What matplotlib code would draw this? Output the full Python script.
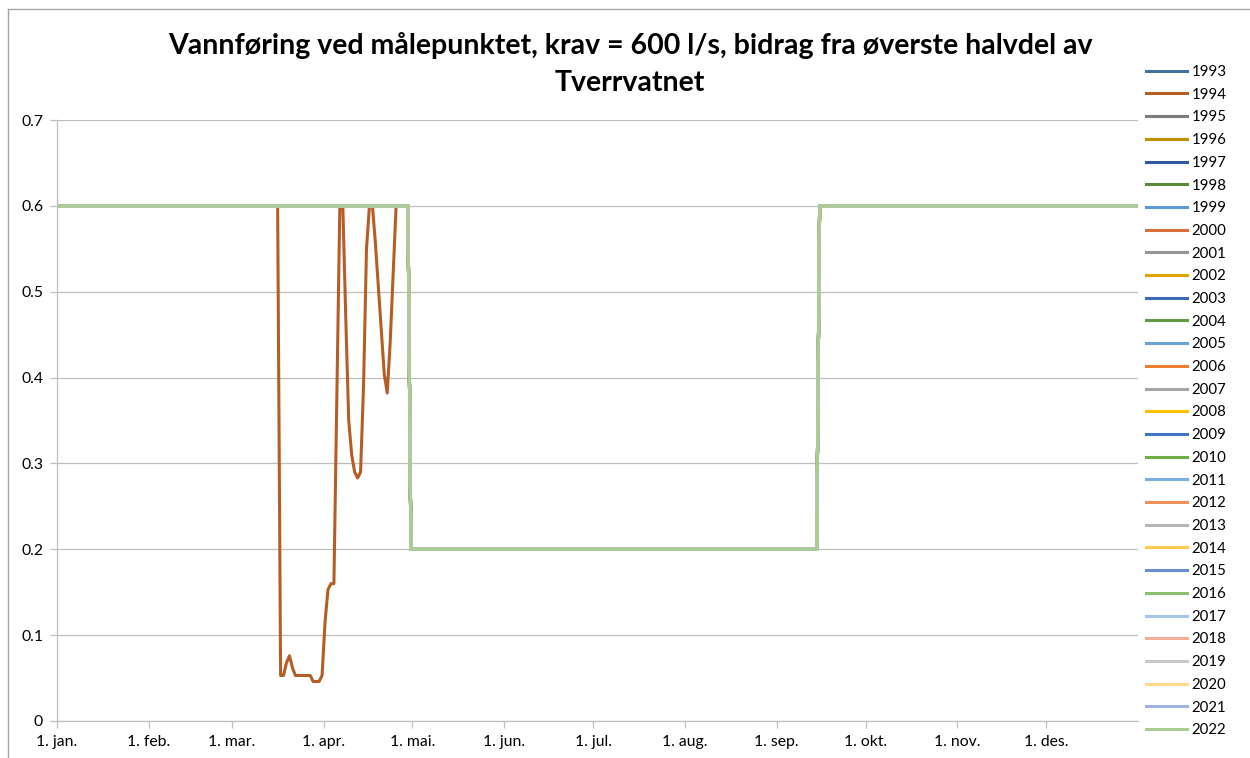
import numpy as np
import matplotlib
matplotlib.use("Agg")
import matplotlib.pyplot as plt
from matplotlib.lines import Line2D

plt.rcParams['font.family'] = ['Lato', 'DejaVu Sans']

# --- data -------------------------------------------------------------
years = list(range(1993, 2023))
n_days = 365

# flow requirement (m3/s) schedule, same for every year: start day -> value
krav_start_day = [0, 119, 257]
krav_value = [0.6, 0.2, 0.6]

# 1994 falls short of the requirement in March/April (day index, value)
dip_1994_days = list(range(75, 115))
dip_1994_vals = [0.053, 0.053, 0.068, 0.076, 0.062, 0.053, 0.053, 0.053, 0.053, 0.053,
                 0.053, 0.046, 0.046, 0.046, 0.053, 0.115, 0.153, 0.160, 0.160, 0.380,
                 0.600, 0.600, 0.470, 0.350, 0.310, 0.290, 0.283, 0.290, 0.390, 0.550,
                 0.600, 0.600, 0.557, 0.506, 0.455, 0.404, 0.382, 0.441, 0.520, 0.600]

month_start = [0, 31, 59, 90, 120, 151, 181, 212, 243, 273, 304, 334]
month_labels = ['1. jan.', '1. feb.', '1. mar.', '1. apr.', '1. mai.', '1. jun.',
                '1. jul.', '1. aug.', '1. sep.', '1. okt.', '1. nov.', '1. des.']

colors = ['#41719C', '#B65D26', '#7C7C7C', '#BF9000', '#335AA1', '#5A8A3A',
          '#5B9BD5', '#D8703A', '#959595', '#DFA700', '#4068B8', '#629B41',
          '#6AA3DA', '#ED7D31', '#A5A5A5', '#FFC000', '#4472C4', '#70AD47',
          '#7EAEDF', '#F1915A', '#B7B7B7', '#FFCA4D', '#6A8DD0', '#8DBF6C',
          '#A5C6E8', '#F4B096', '#C9C9C9', '#FFD88A', '#9FB3E0', '#A9CD93']

# --- build series -----------------------------------------------------
days = np.arange(n_days)
base = np.zeros(n_days)
for start, val in zip(krav_start_day, krav_value):
    base[start:] = val

series = {}
for yr in years:
    s = base.copy()
    if yr == 1994:
        s[dip_1994_days] = dip_1994_vals
    series[yr] = s

# --- plot -------------------------------------------------------------
fig = plt.figure(figsize=(12.5, 7.58), dpi=100)
ax = fig.add_axes([57/1250, 1-721/758, (1138-57)/1250, (721-120)/758])

x = days + 0.5  # excel date axis: points sit between tick marks
for yr, c in zip(years, colors):
    ax.plot(x, series[yr], color=c, lw=2.2, label=str(yr), solid_joinstyle='round')

ax.set_xlim(0, n_days)
ax.set_ylim(0, 0.7)
ax.set_yticks(np.arange(0, 0.71, 0.1))
ax.set_yticklabels(['0', '0.1', '0.2', '0.3', '0.4', '0.5', '0.6', '0.7'])
ax.set_xticks(month_start)
ax.set_xticklabels(month_labels)

ax.grid(axis='y', color='#bfbfbf', lw=0.9)
ax.set_axisbelow(True)
for sp in ['top', 'right']:
    ax.spines[sp].set_visible(False)
for sp in ['left', 'bottom']:
    ax.spines[sp].set_color('#bfbfbf')
    ax.spines[sp].set_linewidth(0.9)
ax.tick_params(axis='both', colors='#bfbfbf', length=5, width=0.9, labelsize=11.3,
               labelcolor='black')
ax.tick_params(axis='y', pad=5)
ax.tick_params(axis='x', pad=5)

fig.text(0.504, 1-64/758,
         'Vannføring ved målepunktet, krav = 600 l/s, bidrag fra øverste halvdel av\nTverrvatnet',
         ha='center', va='center', fontsize=20.5, fontweight='bold', linespacing=1.52)

fig.legend(loc='upper left', bbox_to_anchor=(1146/1250, 1-65/758), frameon=False,
           fontsize=10.8, handlelength=2.7, handletextpad=0.35, labelspacing=0.58,
           borderaxespad=0, borderpad=0)

# chart border (left / top)
fig.add_artist(Line2D([8/1250, 8/1250], [0, 1-9/758], transform=fig.transFigure,
                      color='#a6a6a6', lw=1))
fig.add_artist(Line2D([8/1250, 1], [1-9/758, 1-9/758], transform=fig.transFigure,
                      color='#a6a6a6', lw=1))

fig.savefig('out.png', dpi=100)
